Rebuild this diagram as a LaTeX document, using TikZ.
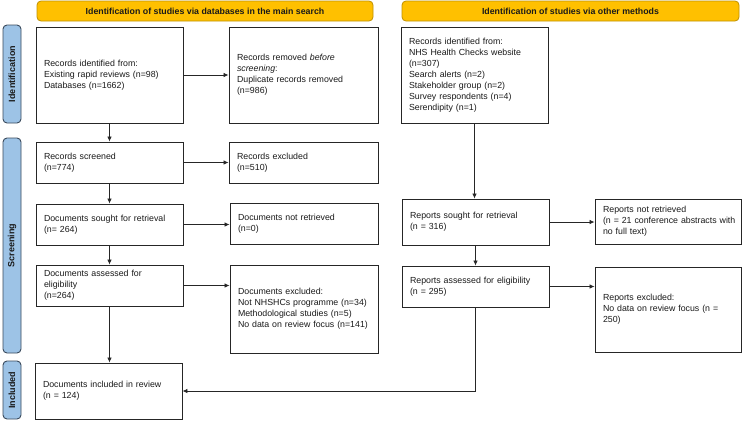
\documentclass[tikz,border=0pt]{standalone}
\usepackage{fontspec}
\setmainfont{Liberation Sans}
\usetikzlibrary{arrows.meta}
\definecolor{hdrfill}{HTML}{FFC000}
\definecolor{hdrdraw}{HTML}{BF9000}
\definecolor{sidefill}{HTML}{9DC3E6}
\definecolor{sidedraw}{HTML}{3A4A5C}
\definecolor{boxdraw}{HTML}{262626}
\definecolor{txt}{HTML}{1A1A1A}
\newcommand\prlines[1]{\noindent\begin{tabular}{@{}l@{}}#1\end{tabular}}
\newcommand\prbox[7]{%
  \pgfmathsetmacro\bw{#5-#3}\pgfmathsetmacro\bh{#6-#4}%
  \pgfmathsetmacro\bx{(#3+#5)/2}\pgfmathsetmacro\by{(#4+#6)/2}%
  \pgfmathsetmacro\tw{#5-#3-16}%
  \node[#1, minimum width=\bw pt, minimum height=\bh pt, text width=\tw pt] (#2) at (\bx,\by) {\prlines{#7}};}
\newcommand\prhead[6]{%
  \pgfmathsetmacro\bw{#4-#2}\pgfmathsetmacro\bh{#5-#3}%
  \pgfmathsetmacro\bx{(#2+#4)/2}\pgfmathsetmacro\by{(#3+#5)/2}%
  \node[hdr, minimum width=\bw pt, minimum height=\bh pt] (#1) at (\bx,\by) {#6};}
\newcommand\prside[6]{%
  \pgfmathsetmacro\bw{#4-#2}\pgfmathsetmacro\bh{#5-#3}%
  \pgfmathsetmacro\bx{(#2+#4)/2}\pgfmathsetmacro\by{(#3+#5)/2}%
  \node[side, minimum width=\bh pt, minimum height=\bw pt] (#1) at (\bx,\by) {#6};}
\begin{document}
\begin{tikzpicture}[x=1pt,y=-1pt,
  boxstyle/.style={draw=boxdraw, line width=0.9pt, fill=white, align=left, inner xsep=8pt, inner ysep=0pt,
    text=txt, font=\fontsize{8.8}{11}\selectfont},
  hdr/.style={draw=hdrdraw, line width=0.8pt, fill=hdrfill, rounded corners=4pt, inner sep=0pt,
    text=txt, font=\fontsize{8.8}{11}\selectfont\bfseries},
  side/.style={draw=sidedraw, line width=0.9pt, fill=sidefill, rounded corners=4pt, inner sep=0pt, rotate=90,
    text=txt, font=\fontsize{9}{11}\selectfont\bfseries},
  arr/.style={draw=boxdraw, line width=0.8pt, -{Latex[length=5pt,width=4.5pt]}},
  ln/.style={draw=boxdraw, line width=0.8pt}]
\useasboundingbox (0,0) rectangle (743,421);
\prhead{h1}{37}{1}{373}{21}{Identification of studies via databases in the main search}
\prhead{h2}{402}{1}{739}{21}{Identification of studies via other methods}
\prside{sid}{3}{25}{21}{123}{Identification}
\prside{sscr}{3}{138}{21}{353}{Screening}
\prside{sinc}{3}{361}{21}{419}{Included}
\prbox{boxstyle}{idA}{36}{27}{183}{123}{Records identified from:\\Existing rapid reviews (n=98)\\Databases (n=1662)}
\prbox{boxstyle}{remA}{229}{27}{378}{123}{Records removed \textit{before}\\\textit{screening}:\\Duplicate records removed\\(n=986)}
\prbox{boxstyle}{idB}{401}{27}{548}{123}{Records identified from:\\NHS Health Checks website\\(n=307)\\Search alerts (n=2)\\Stakeholder group (n=2)\\Survey respondents (n=4)\\Serendipity (n=1)}
\prbox{boxstyle}{scr}{36}{142}{183}{183}{Records screened\\(n=774)}
\prbox{boxstyle}{excl}{229}{142}{378}{183}{Records excluded\\(n=510)}
\prbox{boxstyle}{soughtA}{36}{204}{183}{245}{Documents sought for retrieval\\(n= 264)}
\prbox{boxstyle}{notretA}{230}{203}{378}{244}{Documents not retrieved\\(n=0)}
\prbox{boxstyle}{assessA}{36}{265}{183}{306}{Documents assessed for\\eligibility\\(n=264)}
\prbox{boxstyle}{exclA}{230}{265}{378}{353}{Documents excluded:\\Not NHSHCs programme (n=34)\\Methodological studies (n=5)\\No data on review focus (n=141)}
\prbox{boxstyle}{soughtB}{402}{199}{549}{245}{Reports sought for retrieval\\(n = 316)}
\prbox{boxstyle}{notretB}{595}{199}{741}{244}{Reports not retrieved\\(n = 21 conference abstracts with\\no full text)}
\prbox{boxstyle}{assessB}{402}{266}{549}{307}{Reports assessed for eligibility\\(n = 295)}
\prbox{boxstyle}{exclB}{595}{267}{741}{352}{Reports excluded:\\No data on review focus (n =\\250)}
\prbox{boxstyle}{incl}{35}{363}{182}{419}{Documents included in review\\(n = 124)}
% connectors
\draw[arr] (idA.south) -- (scr.north);
\draw[arr] (scr.south) -- (soughtA.north);
\draw[arr] (soughtA.south) -- (assessA.north);
\draw[arr] (assessA.south) -- (assessA.south |- incl.north);
\draw[arr] (idA.east) -- (idA.east -| remA.west);
\draw[arr] (scr.east) -- (scr.east -| excl.west);
\draw[arr] (soughtA.east) -- (soughtA.east -| notretA.west);
\draw[arr] (assessA.east) -- (assessA.east -| exclA.west);
\draw[arr] (idB.south) -- (idB.south |- soughtB.north);
\draw[arr] (soughtB.east) -- (soughtB.east -| notretB.west);
\draw[arr] (soughtB.south) -- (soughtB.south |- assessB.north);
\draw[arr] (assessB.east) -- (assessB.east -| exclB.west);
\draw[arr] (assessB.south) |- (incl.east);
\end{tikzpicture}
\end{document}
